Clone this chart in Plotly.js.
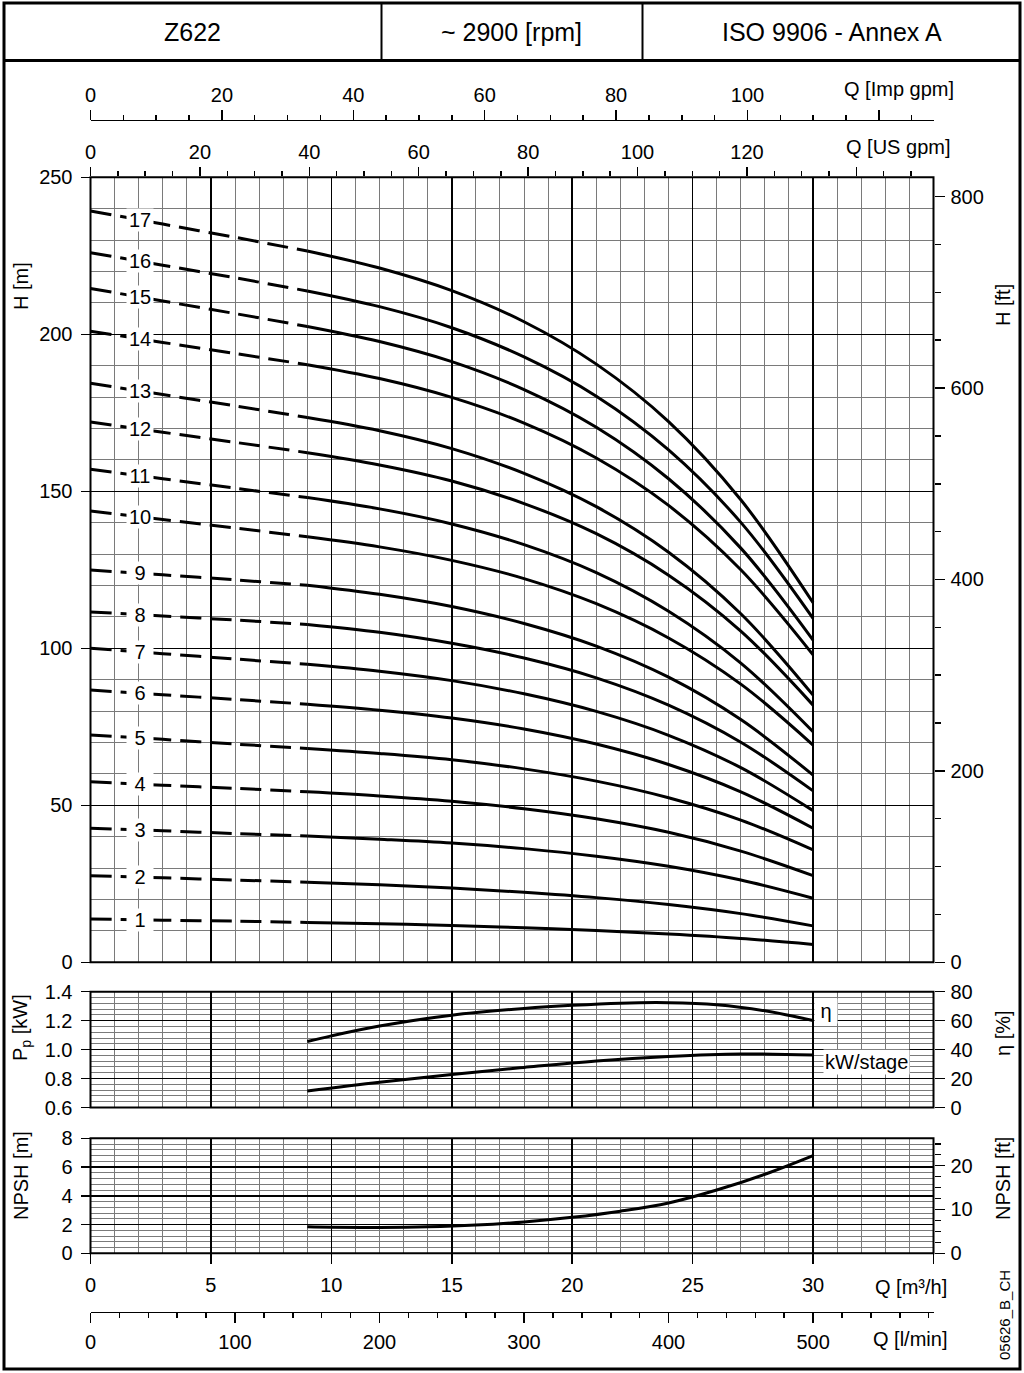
<!DOCTYPE html>
<html>
<head>
<meta charset="utf-8">
<script src="https://cdn.plot.ly/plotly-3.0.1.min.js"></script>
<style>
  html, body { margin: 0; padding: 0; background: #fff; }
  #chart { width: 1024px; height: 1373px; }
</style>
</head>
<body>
<div id="chart"></div>
<script>
// ---------------- DATA ----------------
// Flow points (m3/h) at which the head curves were read
const Q_HEAD = [0, 3, 6, 9, 12, 15, 18, 21, 24, 27, 30];
const DASH_END_INDEX = 3; // curves are dashed up to Q = 9 m3/h

// Head H [m] for pumps with 1..17 stages
const H01 = [13.8, 13.4, 13.1, 12.7, 12.3, 11.7, 11.0, 10.1, 9.0, 7.6, 5.7];
const H02 = [27.6, 26.9, 26.2, 25.5, 24.7, 23.7, 22.3, 20.6, 18.4, 15.5, 11.6];
const H03 = [42.7, 41.9, 41.0, 40.2, 39.2, 38.0, 36.2, 33.8, 30.6, 26.2, 20.4];
const H04 = [57.5, 56.4, 55.4, 54.3, 53.0, 51.3, 48.9, 45.7, 41.4, 35.4, 27.6];
const H05 = [72.4, 71.0, 69.5, 68.1, 66.5, 64.5, 61.6, 57.7, 52.4, 45.3, 35.8];
const H06 = [86.7, 85.2, 83.7, 82.2, 80.3, 77.8, 74.3, 69.5, 63.0, 54.3, 42.7];
const H07 = [100.0, 98.3, 96.6, 94.9, 92.7, 89.7, 85.5, 79.9, 72.3, 62.0, 48.3];
const H08 = [111.6, 110.3, 109.0, 107.6, 105.1, 101.6, 96.9, 90.6, 81.9, 70.1, 54.6];
const H09 = [124.9, 123.4, 121.8, 120.1, 117.2, 113.3, 107.9, 100.7, 90.8, 77.3, 59.6];
const H10 = [143.7, 141.0, 138.3, 135.5, 132.3, 128.0, 122.2, 114.2, 103.3, 88.6, 69.2];
const H11 = [157.0, 154.0, 151.0, 148.0, 144.4, 139.6, 133.0, 124.1, 111.8, 95.3, 73.4];
const H12 = [172.1, 168.8, 165.6, 162.3, 158.4, 153.3, 146.1, 136.5, 123.3, 105.5, 81.9];
const H13 = [184.4, 180.8, 177.2, 173.5, 169.3, 163.6, 155.7, 145.1, 130.6, 111.0, 85.1];
const H14 = [201.0, 197.4, 193.9, 190.3, 185.9, 179.9, 171.7, 160.6, 145.5, 125.0, 97.9];
const H15 = [214.6, 210.6, 206.6, 202.5, 197.7, 191.3, 182.4, 170.4, 154.0, 131.9, 102.6];
const H16 = [226.0, 222.0, 218.0, 213.8, 208.8, 202.1, 192.8, 180.3, 163.2, 140.1, 109.5];
const H17 = [239.3, 235.1, 230.9, 226.5, 221.1, 213.9, 204.0, 190.5, 172.2, 147.3, 114.5];
const STAGE_LABELS = ['1','2','3','4','5','6','7','8','9','10','11','12','13','14','15','16','17'];
const LABEL_Q = 2.05;

// Efficiency eta [%]
const Q_ETA = [9, 10, 12, 15, 18, 20, 22, 24, 26, 28, 30];
const ETA   = [45.6, 49.5, 56.3, 63.8, 68.4, 70.6, 72.1, 72.4, 71.0, 66.8, 60.1];
// Power per stage [kW]
const Q_KW = [9, 12, 15, 18, 21, 24, 27, 30];
const KW   = [0.714, 0.775, 0.828, 0.877, 0.922, 0.953, 0.970, 0.963];
// NPSH [m]
const Q_NPSH = [9, 10, 12, 14, 16, 18, 20, 22, 24, 26, 28, 30];
const NPSH   = [1.85, 1.82, 1.80, 1.84, 1.96, 2.18, 2.50, 2.93, 3.50, 4.40, 5.50, 6.80];

// Axis tick values
const Q_M3H_TICKS = [0, 5, 10, 15, 20, 25, 30];
const Q_M3H_EXTRA = [35];
const Q_IMP_TICKS = [0, 20, 40, 60, 80, 100];
const Q_IMP_EXTRA = [120];
const Q_US_TICKS  = [0, 20, 40, 60, 80, 100, 120];
const Q_US_EXTRA  = [140];
const Q_LMIN_TICKS = [0, 100, 200, 300, 400, 500];
const H_M_TICKS = [0, 50, 100, 150, 200, 250];
const H_FT_TICKS = [0, 200, 400, 600, 800];
const P_TICKS = [0.6, 0.8, 1.0, 1.2, 1.4];
const P_TEXT = ['0.6', '0.8', '1.0', '1.2', '1.4'];
const ETA_TICKS = [0, 20, 40, 60, 80];
const NPSH_M_TICKS = [0, 2, 4, 6, 8];
const NPSH_FT_TICKS = [0, 10, 20];

// Unit conversions
const Q_MAX = 35;                       // m3/h
const LMIN_PER_M3H = 1000 / 60;
const IMP_PER_M3H = LMIN_PER_M3H / 4.54609;
const US_PER_M3H = LMIN_PER_M3H / 3.785411784;
const FT_PER_M = 1 / 0.3048;

// ---------------- LAYOUT HELPERS ----------------
const W = 1024, HT = 1373;
const px = x => x / W;
const py = y => 1 - y / HT;
const FONT = 'Liberation Sans, Arial, Helvetica, sans-serif';
const FS = 20;
const TICKF = {family: FONT, size: FS, color: '#000'};
const GRID_MAJOR = '#000';
const GRID_MINOR = '#7a7a7a';

const XDOM = [px(90.5), px(933.5)];
const DOM_H = [py(962.3), py(177.3)];
const DOM_P = [py(1107.5), py(991.7)];
const DOM_N = [py(1253.3), py(1138.3)];

// ---------------- TRACES ----------------
const heads = [H01,H02,H03,H04,H05,H06,H07,H08,H09,H10,H11,H12,H13,H14,H15,H16,H17];
const traces = [];
const annotations = [];
heads.forEach((h, i) => {
  traces.push({
    x: Q_HEAD.slice(0, DASH_END_INDEX + 1), y: h.slice(0, DASH_END_INDEX + 1),
    xaxis: 'x', yaxis: 'y', mode: 'lines', hoverinfo: 'skip', showlegend: false,
    line: {color: '#000', width: 3, dash: '21px,9px', shape: 'spline', smoothing: 0.6}
  });
  traces.push({
    x: Q_HEAD.slice(DASH_END_INDEX), y: h.slice(DASH_END_INDEX),
    xaxis: 'x', yaxis: 'y', mode: 'lines', hoverinfo: 'skip', showlegend: false,
    line: {color: '#000', width: 3, shape: 'spline', smoothing: 1}
  });
  const t = (LABEL_Q - Q_HEAD[0]) / (Q_HEAD[1] - Q_HEAD[0]);
  const yl = h[0] + (h[1] - h[0]) * t;
  annotations.push({
    x: LABEL_Q, y: yl, xref: 'x', yref: 'y', text: STAGE_LABELS[i],
    showarrow: false, bgcolor: '#fff', width: 26, borderpad: 0,
    font: {family: FONT, size: FS, color: '#000'}
  });
});

traces.push({x: Q_KW, y: KW, xaxis: 'x', yaxis: 'y2', mode: 'lines', hoverinfo: 'skip', showlegend: false,
  line: {color: '#000', width: 3, shape: 'spline', smoothing: 1}});
traces.push({x: Q_ETA, y: ETA, xaxis: 'x', yaxis: 'y5', mode: 'lines', hoverinfo: 'skip', showlegend: false,
  line: {color: '#000', width: 3, shape: 'spline', smoothing: 1}});
traces.push({x: Q_NPSH, y: NPSH, xaxis: 'x', yaxis: 'y3', mode: 'lines', hoverinfo: 'skip', showlegend: false,
  line: {color: '#000', width: 3, shape: 'spline', smoothing: 1}});

// invisible helper traces so that every secondary axis is drawn
const ghost = (xa, ya) => ({x: [0], y: [0], xaxis: xa, yaxis: ya, mode: 'markers',
  marker: {opacity: 0, size: 1}, hoverinfo: 'skip', showlegend: false});
traces.push(ghost('x2', 'y'), ghost('x3', 'y'), ghost('x4', 'y3'),
            ghost('x5', 'y'), ghost('x6', 'y'), ghost('x7', 'y3'),
            ghost('x', 'y4'), ghost('x', 'y6'));

// ---------------- TEXT ----------------
const txt = (x, y, text, opts = {}) => Object.assign({
  x: px(x), y: py(y), xref: 'paper', yref: 'paper', text: text, showarrow: false,
  font: {family: FONT, size: FS, color: '#000'}, xanchor: 'center', yanchor: 'middle'
}, opts);
const HF = {family: FONT, size: 25, color: '#000'};

annotations.push(
  txt(192, 32, 'Z622', {font: HF}),
  txt(511, 32, '~ 2900 [rpm]', {font: HF}),
  txt(832, 32, 'ISO 9906 - Annex A', {font: HF}),
  txt(956, 89, 'Q [Imp gpm]', {xanchor: 'right'}),
  txt(952, 147, 'Q [US gpm]', {xanchor: 'right'}),
  txt(949, 1287, 'Q [m³/h]', {xanchor: 'right'}),
  txt(949, 1339, 'Q [l/min]', {xanchor: 'right'}),
  txt(21, 286, 'H [m]', {textangle: -90}),
  txt(1003, 305, 'H [ft]', {textangle: -90}),
  txt(21, 1028, 'P<sub>p</sub> [kW]', {textangle: -90}),
  txt(1003, 1033, 'η [%]', {textangle: -90}),
  txt(21, 1176, 'NPSH [m]', {textangle: -90}),
  txt(1003, 1179, 'NPSH [ft]', {textangle: -90}),
  txt(1004, 1315, '05626_B_CH', {textangle: -90, font: {family: FONT, size: 15, color: '#000'}})
);
annotations.push({
  x: 30.55, y: 66.5, xref: 'x', yref: 'y5', text: 'η', showarrow: false, bgcolor: '#fff',
  width: 20, font: {family: FONT, size: FS, color: '#000'}
});
annotations.push({
  x: 32.2, y: 0.915, xref: 'x', yref: 'y2', text: 'kW/stage', showarrow: false, bgcolor: '#fff',
  font: {family: FONT, size: FS, color: '#000'}
});

// ---------------- SHAPES ----------------
const line = {color: '#000', width: 2};
const shapes = [
  {type: 'rect', xref: 'paper', yref: 'paper', x0: px(4), x1: px(1020), y0: py(1369), y1: py(3), line: {color: '#000', width: 3}},
  {type: 'line', xref: 'paper', yref: 'paper', x0: px(4), x1: px(1020), y0: py(60.5), y1: py(60.5), line: {color: '#000', width: 3}},
  {type: 'line', xref: 'paper', yref: 'paper', x0: px(381.5), x1: px(381.5), y0: py(3), y1: py(60.5), line: {color: '#000', width: 2}},
  {type: 'line', xref: 'paper', yref: 'paper', x0: px(642.5), x1: px(642.5), y0: py(3), y1: py(60.5), line: {color: '#000', width: 2}},
  {type: 'rect', xref: 'x domain', yref: 'y domain', x0: 0, x1: 1, y0: 0, y1: 1, line: line},
  {type: 'rect', xref: 'x domain', yref: 'y2 domain', x0: 0, x1: 1, y0: 0, y1: 1, line: line},
  {type: 'rect', xref: 'x domain', yref: 'y3 domain', x0: 0, x1: 1, y0: 0, y1: 1, line: line}
];

// ---------------- AXES ----------------
const baseAxis = {
  showline: false, zeroline: false, tickfont: TICKF, tickcolor: '#000', tickwidth: 1.5,
  fixedrange: true, showgrid: false
};
const yGrid = (vals, text, minorDtick, minorTick0, dom, range) => Object.assign({}, baseAxis, {
  domain: dom, range: range, anchor: 'x', side: 'left',
  tickmode: 'array', tickvals: vals, ticktext: text, ticks: 'outside', ticklen: 9,
  ticklabelstandoff: 4,
  showgrid: true, gridcolor: GRID_MAJOR, gridwidth: 1.5,
  minor: {tickmode: 'linear', tick0: minorTick0, dtick: minorDtick, showgrid: true,
          gridcolor: GRID_MINOR, gridwidth: 1, ticks: ''}
});
const tickOnly = (extra) => Object.assign({}, baseAxis, extra, {
  showticklabels: false, ticks: 'outside', tickmode: 'array'
});

const layout = {
  width: W, height: HT,
  margin: {l: 0, r: 0, t: 0, b: 0, pad: 0},
  paper_bgcolor: '#fff', plot_bgcolor: 'rgba(0,0,0,0)',
  showlegend: false,
  font: {family: FONT, color: '#000'},
  xaxis: Object.assign({}, baseAxis, {
    domain: XDOM, range: [0, Q_MAX], anchor: 'y3', side: 'bottom',
    tickmode: 'array', tickvals: Q_M3H_TICKS,
    ticks: 'outside', ticklen: 10, ticklabelstandoff: 4,
    showgrid: true, gridcolor: GRID_MAJOR, gridwidth: 1.5,
    minor: {tickmode: 'linear', tick0: 0, dtick: 1, showgrid: true, gridcolor: GRID_MINOR, gridwidth: 1, ticks: ''}
  }),
  xaxis2: Object.assign({}, baseAxis, {
    overlaying: 'x', anchor: 'free', position: py(119.5), side: 'top',
    range: [0, Q_MAX * IMP_PER_M3H], tickmode: 'array', tickvals: Q_IMP_TICKS,
    ticks: 'outside', ticklen: 10, ticklabelstandoff: 0, showline: true, linewidth: 1.5, linecolor: '#000',
    minor: {tickmode: 'linear', tick0: 0, dtick: 5, ticks: 'outside', ticklen: 5, tickcolor: '#000', showgrid: false}
  }),
  xaxis5: tickOnly({overlaying: 'x', anchor: 'free', position: py(119.5), side: 'top',
    range: [0, Q_MAX * IMP_PER_M3H], tickvals: Q_IMP_EXTRA, ticklen: 10}),
  xaxis3: Object.assign({}, baseAxis, {
    overlaying: 'x', anchor: 'y', side: 'top',
    range: [0, Q_MAX * US_PER_M3H], tickmode: 'array', tickvals: Q_US_TICKS,
    ticks: 'outside', ticklen: 9,
    minor: {tickmode: 'linear', tick0: 0, dtick: 5, ticks: 'outside', ticklen: 5, tickcolor: '#000', showgrid: false}
  }),
  xaxis6: tickOnly({overlaying: 'x', anchor: 'y', side: 'top',
    range: [0, Q_MAX * US_PER_M3H], tickvals: Q_US_EXTRA, ticklen: 9}),
  xaxis7: tickOnly({overlaying: 'x', anchor: 'y3', side: 'bottom',
    range: [0, Q_MAX], tickvals: Q_M3H_EXTRA, ticklen: 10}),
  xaxis4: Object.assign({}, baseAxis, {
    overlaying: 'x', anchor: 'free', position: py(1311.7), side: 'bottom',
    range: [0, Q_MAX * LMIN_PER_M3H], tickmode: 'array', tickvals: Q_LMIN_TICKS,
    ticks: 'outside', ticklen: 10, ticklabelstandoff: 2, showline: true, linewidth: 1.5, linecolor: '#000',
    minor: {tickmode: 'linear', tick0: 0, dtick: 20, ticks: 'outside', ticklen: 5, tickcolor: '#000', showgrid: false}
  }),
  yaxis: yGrid(H_M_TICKS, H_M_TICKS.map(String), 10, 0, DOM_H, [0, 250]),
  yaxis2: yGrid(P_TICKS, P_TEXT, 0.04, 0.6, DOM_P, [0.6, 1.4]),
  yaxis3: yGrid(NPSH_M_TICKS, NPSH_M_TICKS.map(String), 0.4, 0, DOM_N, [0, 8]),
  yaxis4: Object.assign({}, baseAxis, {
    overlaying: 'y', anchor: 'x', side: 'right', range: [0, 250 * FT_PER_M],
    tickmode: 'array', tickvals: H_FT_TICKS, ticks: 'outside', ticklen: 10, ticklabelstandoff: 2,
    minor: {tickmode: 'linear', tick0: 0, dtick: 50, ticks: 'outside', ticklen: 6, tickcolor: '#000', showgrid: false}
  }),
  yaxis5: Object.assign({}, baseAxis, {
    overlaying: 'y2', anchor: 'x', side: 'right', range: [0, 80],
    tickmode: 'array', tickvals: ETA_TICKS, ticks: 'outside', ticklen: 10, ticklabelstandoff: 2
  }),
  yaxis6: Object.assign({}, baseAxis, {
    overlaying: 'y3', anchor: 'x', side: 'right', range: [0, 8 * FT_PER_M],
    tickmode: 'array', tickvals: NPSH_FT_TICKS, ticks: 'outside', ticklen: 10, ticklabelstandoff: 2,
    minor: {tickmode: 'linear', tick0: 0, dtick: 2.5, ticks: 'outside', ticklen: 6, tickcolor: '#000', showgrid: false}
  }),
  shapes: shapes,
  annotations: annotations
};

Plotly.newPlot('chart', traces, layout, {staticPlot: true, displayModeBar: false});
</script>
</body>
</html>
